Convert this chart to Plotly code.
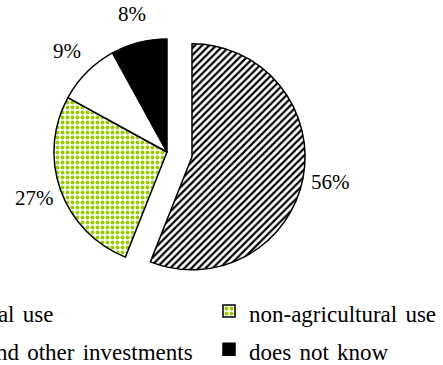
import math
import plotly.graph_objects as go

# Uses of the money received (share of respondents)
categories = [
    "agricultural use",
    "non-agricultural use",
    "savings and other investments",
    "does not know",
]
shares = [56, 27, 9, 8]
pulls = [0.225, 0, 0, 0]

FONT = "Liberation Serif"
W, H = 1500, 365

# pie box in pixels (left, right, top, bottom)
BOX = (28.5, 305.5, 13.5, 290.5)
LABEL_R = 1.245  # label distance from the centre, in radii
LEGEND_X = -131.5  # left edge of the legend, px

fig = go.Figure(
    go.Pie(
        labels=[
            f'<span style="font-size:23px;word-spacing:2.5px">{c}</span>'
            for c in categories
        ],
        values=shares,
        pull=pulls,
        sort=False,
        direction="clockwise",
        rotation=0,
        textinfo="none",
        marker=dict(
            colors=["white", "white", "white", "black"],
            line=dict(color="black", width=1.5),
            pattern=dict(
                shape=["/", ".", "", ""],
                fgcolor=["black", "#99cc00", "black", "black"],
                bgcolor=["white", "white", "white", "black"],
                size=[5, 5, 5, 5],
                solidity=[0.45, 0.5, 0.3, 0.3],
                fillmode="replace",
            ),
        ),
        domain=dict(x=[BOX[0] / W, BOX[1] / W], y=[1 - BOX[3] / H, 1 - BOX[2] / H]),
        hoverinfo="label+percent",
    )
)

# percentage labels placed outside each slice along its mid-angle
cx = (BOX[0] + BOX[1]) / 2
cy = (BOX[2] + BOX[3]) / 2
radius = min(BOX[1] - BOX[0], BOX[3] - BOX[2]) / (2 + 2 * max(pulls))
total = sum(shares)
start = 0.0
for value, pull in zip(shares, pulls):
    mid = math.radians((start + value / 2) / total * 360)
    start += value
    dx, dy = math.sin(mid), -math.cos(mid)
    px = cx + (pull + LABEL_R) * radius * dx
    py = cy + (pull + LABEL_R) * radius * dy - 1.5
    fig.add_annotation(
        x=px / W,
        y=1 - py / H,
        xref="paper",
        yref="paper",
        text=f"{round(100 * value / total)}%",
        showarrow=False,
        xanchor="center",
        yanchor="middle",
        font=dict(family=FONT, size=21, color="black"),
    )

fig.update_layout(
    width=W,
    height=H,
    margin=dict(l=0, r=0, t=0, b=0, autoexpand=False),
    paper_bgcolor="white",
    plot_bgcolor="white",
    font=dict(family=FONT, color="black"),
    showlegend=True,
    legend=dict(
        orientation="h",
        x=LEGEND_X / W,
        xanchor="left",
        y=1 - 287 / H,
        yanchor="top",
        entrywidth=295.5,
        entrywidthmode="pixels",
        font=dict(family=FONT, size=27, color="black"),
        bgcolor="rgba(0,0,0,0)",
        traceorder="normal",
    ),
)

fig.write_html("out.html")
